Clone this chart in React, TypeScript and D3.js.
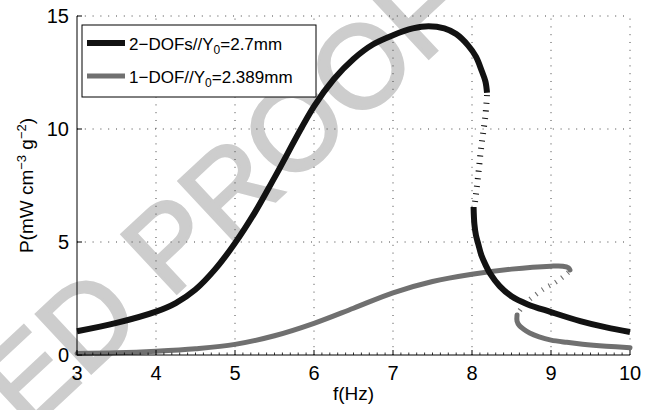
import React from "react";
import * as d3 from "d3";

// ---- data (f in Hz, P in mW cm^-3 g^-2) ----
const xTicks = [3, 4, 5, 6, 7, 8, 9, 10];
const yTicks = [0, 5, 10, 15];

// 2-DOFs, stable upper branch
const twoUpperF = [3, 3.5, 4, 4.25, 4.5, 4.75, 5, 5.25, 5.5, 6, 6.25, 6.5, 6.75, 7, 7.25, 7.45, 7.65, 7.8, 7.95, 8.05, 8.12, 8.17, 8.19];
const twoUpperP = [1.05, 1.42, 1.92, 2.3, 2.9, 3.8, 4.95, 6.3, 7.85, 11.0, 12.2, 13.1, 13.75, 14.15, 14.45, 14.55, 14.45, 14.2, 13.7, 13.2, 12.6, 12.1, 11.6];
// 2-DOFs, unstable branch (dotted)
const twoUnstF = [8.19, 8.17, 8.14, 8.11, 8.08, 8.05, 8.03];
const twoUnstP = [11.5, 10.6, 9.8, 9.0, 8.0, 7.1, 6.55];
// 2-DOFs, stable lower branch
const twoLowerF = [8.02, 8.03, 8.05, 8.08, 8.12, 8.17, 8.23, 8.35, 8.5, 8.7, 9.0, 9.37, 9.7, 10];
const twoLowerP = [6.55, 5.8, 5.3, 4.9, 4.4, 4.0, 3.6, 3.05, 2.6, 2.25, 1.9, 1.5, 1.22, 1.02];

// 1-DOF, upper branch
const oneUpperF = [3, 3.5, 4, 4.5, 5, 5.5, 6, 6.5, 7, 7.5, 8, 8.5, 9, 9.15, 9.22, 9.24];
const oneUpperP = [0.07, 0.1, 0.17, 0.28, 0.47, 0.85, 1.4, 2.07, 2.75, 3.25, 3.57, 3.8, 3.93, 3.93, 3.86, 3.76];
// 1-DOF, unstable branch (dotted)
const oneUnstF = [9.22, 9.15, 9.05, 8.92, 8.8, 8.68, 8.6];
const oneUnstP = [3.65, 3.45, 3.2, 2.95, 2.65, 2.3, 1.95];
// 1-DOF, lower branch
const oneLowerF = [8.57, 8.57, 8.6, 8.65, 8.73, 8.85, 9.0, 9.2, 9.4, 9.7, 10];
const oneLowerP = [1.77, 1.5, 1.3, 1.15, 0.97, 0.8, 0.66, 0.56, 0.48, 0.39, 0.32];

const legendLabels = ["2\u2212DOFs//Y", "1\u2212DOF//Y"];
const legendTails = ["=2.7mm", "=2.389mm"];

const zip = (a: number[], b: number[]) => a.map((v, i) => [v, b[i]] as [number, number]);

export default function App() {
  const W = 654, H = 410;
  const x = d3.scaleLinear().domain([3, 10]).range([77, 630]);
  const y = d3.scaleLinear().domain([0, 15]).range([355, 16]);
  const line = d3
    .line<[number, number]>()
    .x((d) => x(d[0]))
    .y((d) => y(d[1]))
    .curve(d3.curveCatmullRom.alpha(0.5));

  const black = "#121212";
  const gray = "#707070";
  const font = "'Liberation Sans', Arial, Helvetica, sans-serif";
  const minor = d3.range(30, 101).map((v) => v / 10).filter((v) => Math.abs(v - Math.round(v)) > 1e-6);

  return (
    <svg width={W} height={H} style={{ position: "absolute", left: 0, top: 0, background: "#fff" }} fontFamily={font}>
      <rect x={0} y={0} width={W} height={H} fill="#fff" />
      {/* watermark */}
      <text
        transform="translate(474,16) rotate(-43)"
        textAnchor="end"
        fontSize={117}
        fill="#cdcdcd"
        stroke="#cdcdcd"
        strokeWidth={3}
      >
        UNCORRECTED PROOF
      </text>
      {/* grid */}
      <g stroke="#444" strokeWidth={1} strokeDasharray="1 6.8">
        {xTicks.slice(1).map((t) => (
          <line key={"gx" + t} x1={x(t)} x2={x(t)} y1={y(0)} y2={y(15)} />
        ))}
        {yTicks.slice(1).map((t) => (
          <line key={"gy" + t} x1={x(3)} x2={x(10)} y1={y(t)} y2={y(t)} />
        ))}
      </g>
      {/* curves */}
      <g fill="none" strokeLinejoin="round">
        <path d={line(zip(oneUpperF, oneUpperP))!} stroke={gray} strokeWidth={5} strokeLinecap="round" />
        <path d={line(zip(oneUnstF, oneUnstP))!} stroke={gray} strokeWidth={5} strokeDasharray="1.1 6.5" />
        <path d={line(zip(oneLowerF, oneLowerP))!} stroke={gray} strokeWidth={5} strokeLinecap="round" />
        <path d={line(zip(twoUpperF, twoUpperP))!} stroke={black} strokeWidth={6} />
        <path d={line(zip(twoUnstF, twoUnstP))!} stroke={black} strokeWidth={6} strokeDasharray="1.1 6.5" />
        <path d={line(zip(twoLowerF, twoLowerP))!} stroke={black} strokeWidth={6} />
      </g>
      {/* axes */}
      <g stroke="#000" strokeWidth={1}>
        <line x1={x(3)} x2={x(3)} y1={y(0)} y2={y(15)} />
        <line x1={x(3)} x2={x(10)} y1={y(0)} y2={y(0)} />
        {xTicks.map((t) => (
          <line key={"tx" + t} x1={x(t)} x2={x(t)} y1={y(0)} y2={y(0) - 5} />
        ))}
        {minor.map((t) => (
          <line key={"mx" + t} x1={x(t)} x2={x(t)} y1={y(0)} y2={y(0) - 2.5} strokeWidth={0.8} />
        ))}
        {yTicks.map((t) => (
          <line key={"ty" + t} x1={x(3)} x2={x(3) + 5} y1={y(t)} y2={y(t)} />
        ))}
      </g>
      {/* tick labels */}
      <g fontSize={20} fill="#000">
        {xTicks.map((t) => (
          <text key={"lx" + t} x={x(t)} y={y(0) + 25} textAnchor="middle">
            {t}
          </text>
        ))}
        {yTicks.map((t) => (
          <text key={"ly" + t} x={x(3) - 8} y={y(t) + 7} textAnchor="end">
            {t}
          </text>
        ))}
      </g>
      {/* axis labels */}
      <text x={(x(3) + x(10)) / 2} y={400} textAnchor="middle" fontSize={19}>
        f(Hz)
      </text>
      <text transform={`translate(33,${(y(0) + y(15)) / 2}) rotate(-90)`} textAnchor="middle" fontSize={19}>
        P(mW cm
        <tspan dy={-7} fontSize={13}>{"\u22123"}</tspan>
        <tspan dy={7}> g</tspan>
        <tspan dy={-7} fontSize={13}>{"\u22122"}</tspan>
        <tspan dy={7}>)</tspan>
      </text>
      {/* legend */}
      <g>
        <rect x={82} y={25} width={234} height={72} fill="#fff" stroke="#000" strokeWidth={1} />
        {[black, gray].map((c, i) => (
          <g key={"lg" + i}>
            <line x1={87} x2={125} y1={43 + i * 33} y2={43 + i * 33} stroke={c} strokeWidth={i === 0 ? 6 : 5} />
            <text x={129} y={50 + i * 33} fontSize={17}>
              {legendLabels[i]}
              <tspan dy={4} fontSize={12}>0</tspan>
              <tspan dy={-4}>{legendTails[i]}</tspan>
            </text>
          </g>
        ))}
      </g>
    </svg>
  );
}
